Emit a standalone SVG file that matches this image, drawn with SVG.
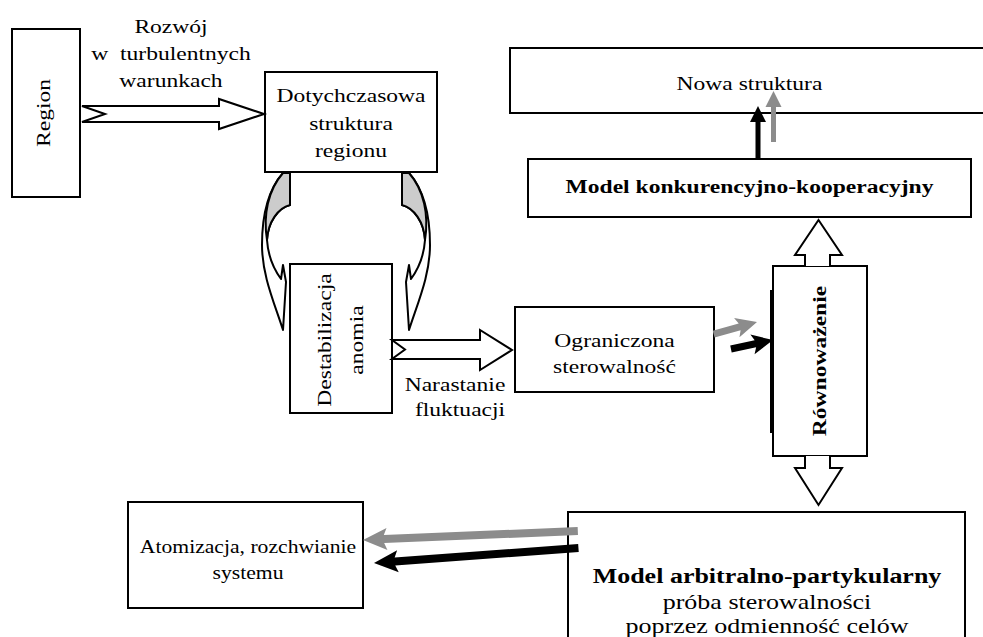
<svg xmlns="http://www.w3.org/2000/svg" width="983" height="637" viewBox="0 0 983 637">
<style>
.t{font-family:"Liberation Serif","Times New Roman",serif;font-size:19px;text-anchor:middle;fill:#000}
.b{font-weight:bold}
.big{font-size:20px}
.box{fill:#fff;stroke:#000;stroke-width:2}
.hollow{fill:#fff;stroke:#000;stroke-width:2;stroke-linejoin:miter}
.curve{fill:#fff;stroke:#000;stroke-width:2;stroke-linejoin:round}
.shade{fill:#cccccc;stroke:#000;stroke-width:2;stroke-linejoin:round}
.blk{fill:#000}
.gry{fill:#8c8c8c}
</style>
<rect width="983" height="637" fill="#fff"/>

<g id="region">
  <rect class="box" x="12" y="29" width="68" height="168"/>
  <text class="t" transform="translate(49.5,113) rotate(-90) scale(1.24,1)">Region</text>
</g>

<g id="label-rozwoj">
  <text class="t" transform="translate(171,33) scale(1.24,1)">Rozwój</text>
  <text class="t" transform="translate(171,60) scale(1.24,1)" xml:space="preserve">w  turbulentnych</text>
  <text class="t" transform="translate(171,87) scale(1.24,1)">warunkach</text>
</g>

<g id="dotychczasowa">
  <rect class="box" x="265" y="72" width="172" height="100"/>
  <text class="t" transform="translate(351,102) scale(1.24,1)">Dotychczasowa</text>
  <text class="t" transform="translate(351,130) scale(1.24,1)">struktura</text>
  <text class="t" transform="translate(351,157) scale(1.24,1)">regionu</text>
</g>

<g id="destabilizacja">
  <rect class="box" x="290" y="264" width="102" height="149"/>
  <text class="t" transform="translate(331,340) rotate(-90) scale(1.24,1)">Destabilizacja</text>
  <text class="t" transform="translate(363,340) rotate(-90) scale(1.24,1)">anomia</text>
</g>

<g id="label-narastanie">
  <text class="t" transform="translate(455,391) scale(1.24,1)">Narastanie</text>
  <text class="t" transform="translate(460,416) scale(1.24,1)">fluktuacji</text>
</g>

<g id="ograniczona">
  <rect class="box" x="515" y="307" width="199" height="85"/>
  <text class="t" transform="translate(614.5,347) scale(1.24,1)">Ograniczona</text>
  <text class="t" transform="translate(614.5,373) scale(1.24,1)">sterowalność</text>
</g>

<g id="nowa">
  <rect class="box" x="510" y="48" width="490" height="65"/>
  <text class="t" transform="translate(749.5,90) scale(1.24,1)">Nowa struktura</text>
</g>

<g id="model-kk">
  <rect class="box" x="528" y="159" width="443" height="58"/>
  <text class="t b" transform="translate(749.5,193) scale(1.24,1)">Model konkurencyjno-kooperacyjny</text>
</g>

<g id="rownowazenie">
  <rect class="box" x="773" y="266" width="94" height="190"/>
  <rect x="770" y="290" width="4" height="143" fill="#000"/>
  <text class="t b" transform="translate(826,361) rotate(-90) scale(1.24,1)">Równoważenie</text>
</g>

<g id="atomizacja">
  <rect class="box" x="128" y="502" width="235" height="106"/>
  <text class="t" transform="translate(248,553) scale(1.14,1)">Atomizacja, rozchwianie</text>
  <text class="t" transform="translate(248,579) scale(1.14,1)">systemu</text>
</g>

<g id="model-ap">
  <rect class="box" x="568" y="512" width="397" height="140"/>
  <text class="t big b" transform="translate(767,583) scale(1.3,1)">Model arbitralno-partykularny</text>
  <text class="t big" transform="translate(767,609) scale(1.3,1)">próba sterowalności</text>
  <text class="t big" transform="translate(767,633) scale(1.3,1)">poprzez odmienność celów</text>
</g>

<g id="connectors">
  <path class="hollow" d="M82,106 L219,106 L219,99 L264,114 L219,129 L219,122 L82,122 L105,114 Z"/>
  <g id="curved-left">
    <path class="curve" d="M283,173 C268,190 262,215 262,245 C262,275 274,302 283,330 L286,282 L283,265 L281,279 C273,268 268,255 267,240 C268,222 278,208 290,205 L290,173 Z"/>
    <path class="shade" d="M283,173 L290,173 L290,205 C278,208 268,222 267,240 C263,215 268,190 283,173 Z"/>
  </g>
  <g id="curved-right" transform="matrix(-1,0,0,1,692,0)">
    <path class="curve" d="M283,173 C268,190 262,215 262,245 C262,275 274,302 283,330 L286,282 L283,265 L281,279 C273,268 268,255 267,240 C268,222 278,208 290,205 L290,173 Z"/>
    <path class="shade" d="M283,173 L290,173 L290,205 C278,208 268,222 267,240 C263,215 268,190 283,173 Z"/>
  </g>
  <path class="hollow" d="M392,340 L480,340 L480,330 L512,350 L480,370 L480,359 L392,359 L405,349.5 Z"/>
  <path class="gry" transform="translate(757,322) rotate(-15.6)" d="M0,0 L-21,-10 L-18,-3.5 L-45,-3.5 L-45,3.5 L-18,3.5 L-21,10 Z"/>
  <path class="blk" transform="translate(773,340) rotate(-12.1)" d="M0,0 L-21,-10 L-18,-3.5 L-43,-3.5 L-43,3.5 L-18,3.5 L-21,10 Z"/>
  <path class="blk" d="M755.5,158 L755.5,122 L750,122 L758,106 L766,122 L760.5,122 L760.5,158 Z"/>
  <path class="gry" d="M771,142 L771,107 L765.5,107 L773.5,91 L781.5,107 L776,107 L776,142 Z"/>
  <path class="hollow" d="M805,266 L805,255 L795,255 L818.5,220 L842,255 L830,255 L830,266"/>
  <path class="hollow" d="M805,456 L805,468 L795,468 L818.5,505 L842,468 L830,468 L830,456"/>
  <path class="gry" transform="translate(363,540) rotate(177.6)" d="M0,0 L-24,-11 L-21,-4 L-215,-4 L-215,4 L-21,4 L-24,11 Z"/>
  <path class="blk" transform="translate(374,563) rotate(175.8)" d="M0,0 L-24,-11 L-21,-4 L-205,-4 L-205,4 L-21,4 L-24,11 Z"/>
</g>
</svg>
